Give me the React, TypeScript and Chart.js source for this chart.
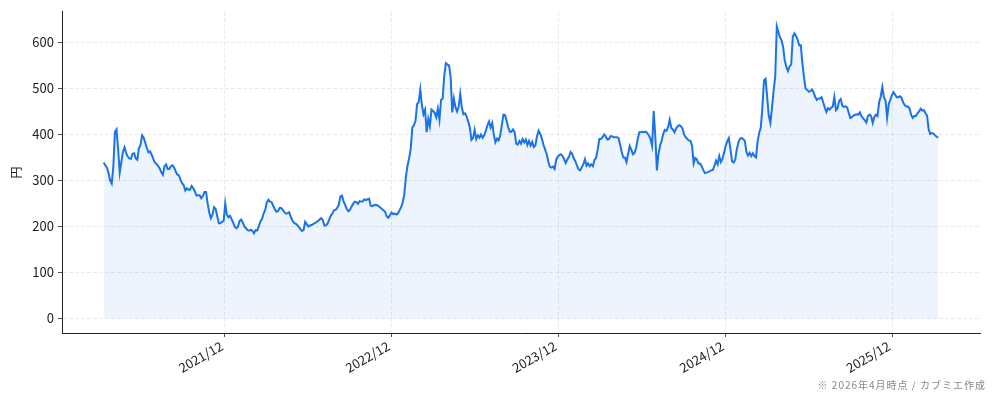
import { useEffect, useRef } from "react"
import { Chart, registerables } from "chart.js"

Chart.register(...registerables)

// closes every half week
const startDate = "2021-03-11"
const stepDays = 3.5
const prices = [
  339, 333, 328, 316, 300, 293, 330, 405, 411, 368,
  317, 340, 362, 372, 360, 352, 348, 347, 358, 359,
  348, 345, 370, 377, 398, 393, 382, 370, 361, 363,
  356, 347, 339, 336, 332, 326, 318, 312, 331, 335,
  325, 325, 331, 333, 328, 320, 313, 311, 302, 294,
  290, 278, 283, 280, 280, 288, 283, 276, 267, 268,
  268, 261, 266, 275, 275, 250, 230, 218, 225, 242,
  238, 222, 207, 207, 210, 212, 250, 225, 220, 223,
  216, 208, 199, 196, 200, 212, 215, 208, 200, 196,
  192, 191, 193, 190, 185, 192, 191, 200, 211, 216,
  228, 236, 252, 258, 254, 253, 245, 238, 232, 233,
  240, 240, 236, 231, 228, 229, 231, 221, 213, 208,
  206, 203, 199, 194, 190, 192, 210, 205, 200, 202,
  203, 205, 207, 209, 212, 215, 218, 214, 202, 202,
  206, 215, 223, 228, 235, 236, 240, 247, 265, 267,
  255, 247, 238, 233, 236, 243, 249, 254, 253, 249,
  255, 254, 254, 259, 257, 259, 260, 245, 244, 246,
  247, 246, 244, 241, 238, 235, 232, 222, 219, 224,
  230, 227, 228, 226, 228, 235, 242, 252, 270, 308,
  332, 348, 368, 415, 420, 429, 466, 470, 498, 465,
  444, 454, 405, 434, 418, 454, 451, 447, 437, 456,
  432, 475, 478, 528, 555, 552, 550, 525, 448, 478,
  460, 450, 460, 488, 458, 444, 446, 439, 428, 415,
  388, 392, 410, 390, 398, 393, 400, 393, 398, 408,
  420, 428, 415, 425, 400, 383, 391, 387, 398, 420,
  443, 442, 430, 415, 406, 406, 411, 405, 380, 378,
  386, 380, 390, 383, 389, 377, 386, 376, 384, 373,
  376, 396, 408, 401, 392, 378, 368, 358, 343, 330,
  328, 330, 325, 345, 352, 355, 357, 353, 346, 338,
  346, 351, 362, 358, 348, 342, 332, 324, 322, 329,
  335, 346, 332, 337, 331, 335, 331, 345, 349, 368,
  390, 390, 394, 400, 396, 389, 390, 396, 396, 394,
  394, 394, 392, 378, 362, 350, 350, 340, 358, 375,
  367, 357, 360, 370, 390, 405, 405, 406, 405, 406,
  403, 398, 390, 375, 451, 396, 322, 358, 376, 387,
  402, 410, 408, 416, 432, 414, 411, 405, 413, 418,
  420, 418, 413, 400, 394, 390, 387, 386, 375, 337,
  349, 346, 337, 337, 331, 323, 316, 317, 318, 320,
  322, 323, 332, 343, 335, 353, 340, 347, 360, 375,
  385, 392, 368, 342, 339, 345, 368, 383, 391, 392,
  390, 386, 362, 354, 360, 353, 359, 353, 350, 385,
  404, 415, 460, 518, 521, 480, 440, 425, 458, 495,
  525, 635, 623, 611, 604, 590, 560, 547, 538, 548,
  552, 613, 620, 614, 607, 594, 594, 555, 525, 500,
  497, 493, 494, 498, 492, 482, 475, 478, 478, 481,
  470, 459, 449, 457, 454, 458, 461, 482, 453, 457,
  473, 477, 462, 460, 461, 459, 447, 436, 438, 441,
  443, 444, 443, 448, 439, 435, 431, 426, 440, 443,
  440, 425, 438, 443, 440, 470, 482, 503, 481, 474,
  436, 466, 475, 486, 492, 487, 481, 481, 483, 480,
  470, 464, 461, 461, 457, 443, 436, 440, 440, 446,
  450, 456, 452, 453, 446, 441, 411, 401, 403, 402,
  398, 395, 393,
]
const tickDates = ["2021-12-01", "2022-12-01", "2023-12-01", "2024-12-01", "2025-12-01"]
const tickLabels = ["2021/12", "2022/12", "2023/12", "2024/12", "2025/12"]
const yTicks = [0, 100, 200, 300, 400, 500, 600]

const DAY = 86400000
const t0 = Date.parse(startDate)
const dayOf = (d: string) => (Date.parse(d) - t0) / DAY

const FONT = "'Noto Sans CJK JP', 'Noto Sans', sans-serif"

export default function App() {
  const chartRef = useRef<HTMLCanvasElement>(null)
  const chartInstance = useRef<Chart | null>(null)

  useEffect(() => {
    document.body.style.margin = "0"
    if (!chartRef.current) return
    if (chartInstance.current) chartInstance.current.destroy()
    const ctx = chartRef.current.getContext("2d")
    if (!ctx) return

    const span = (prices.length - 1) * stepDays
    const yMax = Math.max(...prices)

    chartInstance.current = new Chart(ctx, {
      type: "line",
      data: {
        datasets: [
          {
            data: prices.map((y, i) => ({ x: i * stepDays, y })),
            borderColor: "#1a73e8",
            backgroundColor: "rgba(26,115,232,0.08)",
            borderWidth: 2,
            pointRadius: 0,
            fill: "origin",
            tension: 0,
          },
        ],
      },
      options: {
        animation: false,
        responsive: false,
        maintainAspectRatio: false,
        layout: { padding: { top: 10, right: 14, left: 0, bottom: 0 } },
        plugins: { legend: { display: false }, tooltip: { enabled: false } },
        scales: {
          x: {
            type: "linear",
            min: -0.05 * span,
            max: 1.05 * span,
            afterBuildTicks: (scale) => {
              scale.ticks = tickDates.map((d) => ({ value: dayOf(d) }))
            },
            afterFit: (scale) => {
              scale.height = 68
            },
            ticks: {
              autoSkip: false,
              maxRotation: 30,
              minRotation: 30,
              padding: 1,
              labelOffset: -3,
              color: "#222",
              font: { family: FONT, size: 13 },
              callback: (_v, i) => tickLabels[i],
            },
            grid: {
              color: "rgba(0,0,0,0.11)",
              tickColor: "#222",
              tickLength: 4,
              lineWidth: 0.8,
            },
            border: { display: true, color: "#222", width: 1, dash: [4, 2] },
          },
          y: {
            min: -0.05 * yMax,
            max: 1.05 * yMax,
            afterBuildTicks: (scale) => {
              scale.ticks = yTicks.map((v) => ({ value: v }))
            },
            afterFit: (scale) => {
              scale.width = 62
            },
            ticks: {
              padding: 4,
              color: "#222",
              font: { family: FONT, size: 13 },
            },
            grid: {
              color: "rgba(0,0,0,0.11)",
              tickColor: "#222",
              tickLength: 4,
              lineWidth: 0.8,
            },
            border: { display: true, color: "#222", width: 1, dash: [4, 2] },
            title: {
              display: true,
              text: "円",
              color: "#222",
              font: { family: FONT, size: 12 },
              padding: { top: 9, bottom: 0 },
            },
          },
        },
      },
    })

    return () => {
      if (chartInstance.current) {
        chartInstance.current.destroy()
        chartInstance.current = null
      }
    }
  }, [])

  return (
    <div style={{ position: "relative", width: 994, height: 401 }}>
      <canvas ref={chartRef} width={994} height={401} style={{ width: 994, height: 401 }} />
      <div
        style={{
          position: "absolute",
          right: 8,
          top: 377,
          fontSize: 10,
          letterSpacing: 1,
          color: "#888",
          fontFamily: FONT,
          whiteSpace: "nowrap",
        }}
      >
        ※ 2026年4月時点 / カブミエ作成
      </div>
    </div>
  )
}
